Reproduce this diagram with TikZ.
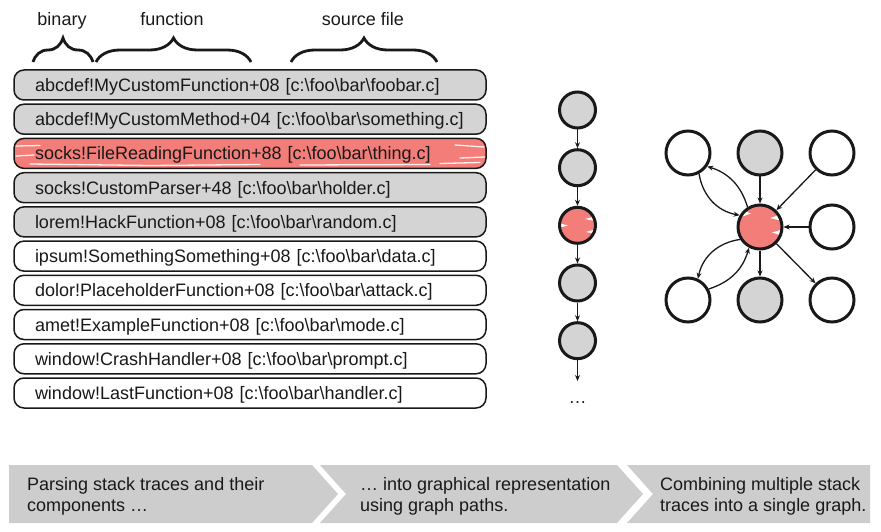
\documentclass[tikz,border=0pt]{standalone}
\usepackage{fontspec}
\setmainfont{Liberation Sans}
\usetikzlibrary{decorations.pathreplacing,arrows.meta,calc}
\definecolor{rowgray}{RGB}{212,212,212}
\definecolor{redc}{RGB}{243,125,120}
\definecolor{bandgray}{RGB}{205,205,205}
\definecolor{ink}{RGB}{25,25,25}
\begin{document}
\begin{tikzpicture}[x=1pt,y=-1pt,
  txt/.style={font=\fontsize{18}{21}\selectfont, text=ink, inner sep=0pt},
  row/.style={draw=ink, rounded corners=10pt, line width=1.5pt, minimum width=472pt,
    minimum height=30pt, text width=430pt, inner xsep=21pt, inner ysep=0pt, align=left,
    text height=13pt, text depth=0pt, font=\fontsize{18}{21}\selectfont, text=ink},
  brc/.style={decorate, decoration={brace, amplitude=24pt}, line width=2.8pt, draw=ink},
  chn/.style={circle, draw=ink, line width=3pt, minimum size=36pt, inner sep=0pt},
  gn/.style={circle, draw=ink, line width=3pt, minimum size=44pt, inner sep=0pt},
  arr/.style={-{Stealth[length=6pt,width=5pt]}, line width=1.3pt, draw=ink},
  band/.style={fill=bandgray, draw=none},
  streak/.style={draw=white, line width=1.3pt, opacity=0.9, line cap=round},
  spike/.style={fill=white, draw=none},
]
\useasboundingbox (0,0) rectangle (881,532);

% headers and braces
\node[txt, anchor=base] (hbin) at (62,26) {binary};
\node[txt, anchor=base] (hfun) at (172,26) {function};
\node[txt, anchor=base] (hsrc) at (363,26) {source file};
\coordinate (b1a) at (33,62);  \coordinate (b1b) at (93,62);
\coordinate (b2a) at (96,62);  \coordinate (b2b) at (251,62);
\coordinate (b3a) at (291,62); \coordinate (b3b) at (437,62);
\draw[brc] (b1a) -- (b1b);
\draw[brc] (b2a) -- (b2b);
\draw[brc] (b3a) -- (b3b);

% stack trace rows
\node[row, fill=rowgray] (r1) at (250,85.0) {abcdef!MyCustomFunction+08 [c:\textbackslash foo\textbackslash bar\textbackslash foobar.c]};
\node[row, fill=rowgray] (r2) at (250,119.2) {abcdef!MyCustomMethod+04 [c:\textbackslash foo\textbackslash bar\textbackslash something.c]};
\fill[redc, rounded corners=10pt] (14,138.4) rectangle (486,168.4);
\begin{scope}
  \clip[rounded corners=10pt] (14,138.4) rectangle (486,168.4);
  \draw[streak] (16,146) -- (40,145.5);
  \draw[streak] (16,156) -- (34,155);
  \draw[streak] (30,164) -- (150,165.5) -- (260,164.5);
  \draw[streak] (300,165) -- (430,164.5);
  \draw[streak] (455,145) -- (484,147);
  \draw[streak] (460,158) -- (485,157);
  \draw[streak] (440,163.5) -- (480,162.5);
\end{scope}
\node[row] (r3) at (250,153.4) {socks!FileReadingFunction+88 [c:\textbackslash foo\textbackslash bar\textbackslash thing.c]};
\node[row, fill=rowgray] (r4) at (250,187.7) {socks!CustomParser+48 [c:\textbackslash foo\textbackslash bar\textbackslash holder.c]};
\node[row, fill=rowgray] (r5) at (250,221.9) {lorem!HackFunction+08 [c:\textbackslash foo\textbackslash bar\textbackslash random.c]};
\node[row, fill=white] (r6) at (250,256.1) {ipsum!SomethingSomething+08 [c:\textbackslash foo\textbackslash bar\textbackslash data.c]};
\node[row, fill=white] (r7) at (250,290.3) {dolor!PlaceholderFunction+08 [c:\textbackslash foo\textbackslash bar\textbackslash attack.c]};
\node[row, fill=white] (r8) at (250,324.5) {amet!ExampleFunction+08 [c:\textbackslash foo\textbackslash bar\textbackslash mode.c]};
\node[row, fill=white] (r9) at (250,358.8) {window!CrashHandler+08 [c:\textbackslash foo\textbackslash bar\textbackslash prompt.c]};
\node[row, fill=white] (r10) at (250,393.0) {window!LastFunction+08 [c:\textbackslash foo\textbackslash bar\textbackslash handler.c]};

% chain
\node[chn, fill=rowgray] (ch1) at (577.5,110) {};
\node[chn, fill=rowgray] (ch2) at (577.5,167.7) {};
\fill[redc] (577.5,225.3) circle[radius=18pt];
\begin{scope}
  \clip (577.5,225.3) circle[radius=18pt];
  \fill[spike] (556,222.5) -- (568,225.5) -- (556,228.5) -- cycle;
  \fill[spike] (598,215.5) -- (585,219) -- (598,221.5) -- cycle;
  \fill[spike] (598,228.5) -- (586,232) -- (598,234.5) -- cycle;
\end{scope}
\node[chn] (ch3) at (577.5,225.3) {};
\node[chn, fill=rowgray] (ch4) at (577.5,283) {};
\node[chn, fill=rowgray] (ch5) at (577.5,340.7) {};
\coordinate (chend) at (577.5,381);
\draw[arr] (ch1) -- (ch2);
\draw[arr] (ch2) -- (ch3);
\draw[arr] (ch3) -- (ch4);
\draw[arr] (ch4) -- (ch5);
\draw[arr] (ch5) -- (chend);
\node[txt, anchor=base] (dots) at (577.5,403) {…};

% combined graph
\node[gn, fill=white] (tl) at (688,153) {};
\node[gn, fill=rowgray] (tm) at (760,153) {};
\node[gn, fill=white] (tr) at (832,153) {};
\fill[redc] (760,227) circle[radius=22pt];
\begin{scope}
  \clip (760,227) circle[radius=22pt];
  \fill[spike] (784,213.5) -- (770,218) -- (784,221.5) -- cycle;
  \fill[spike] (784,229) -- (772,232.5) -- (784,236.5) -- cycle;
  \fill[spike] (739,209) -- (751,213.5) -- (741,217) -- cycle;
\end{scope}
\node[gn] (c) at (760,227) {};
\node[gn, fill=white] (rm) at (832,227) {};
\node[gn, fill=white] (bl) at (688,300) {};
\node[gn, fill=rowgray] (bm) at (760,300) {};
\node[gn, fill=white] (br) at (832,300) {};
\draw[arr] (tl.-62) to[bend right=35] (c.150);
\draw[arr] (c.122) to[bend right=28] (tl.-35);
\draw[arr] (tm) -- (c);
\draw[arr] (tr) -- (c);
\draw[arr] (rm) -- (c);
\draw[arr] (c.-148) to[bend right=35] (bl.65);
\draw[arr] (bl.28) to[bend right=28] (c.-118);
\draw[arr] (c) -- (bm);
\draw[arr] (c) -- (br);

% bottom band
\fill[band] (9,465) -- (312,465) -- (338,494) -- (312,523) -- (9,523) -- cycle;
\fill[band] (320,465) -- (617,465) -- (643,494) -- (617,523) -- (320,523) -- (346,494) -- cycle;
\fill[band] (627,465) -- (870,465) -- (870,523) -- (627,523) -- (653,494) -- cycle;
\node[txt, anchor=base west, align=left] (t1) at (27,511) {Parsing stack traces and their\\components …};
\node[txt, anchor=base west, align=left] (t2) at (360,511) {… into graphical representation\\using graph paths.};
\node[txt, anchor=base west, align=left] (t3) at (660,511) {Combining multiple stack\\traces into a single graph.};
\end{tikzpicture}
\end{document}
